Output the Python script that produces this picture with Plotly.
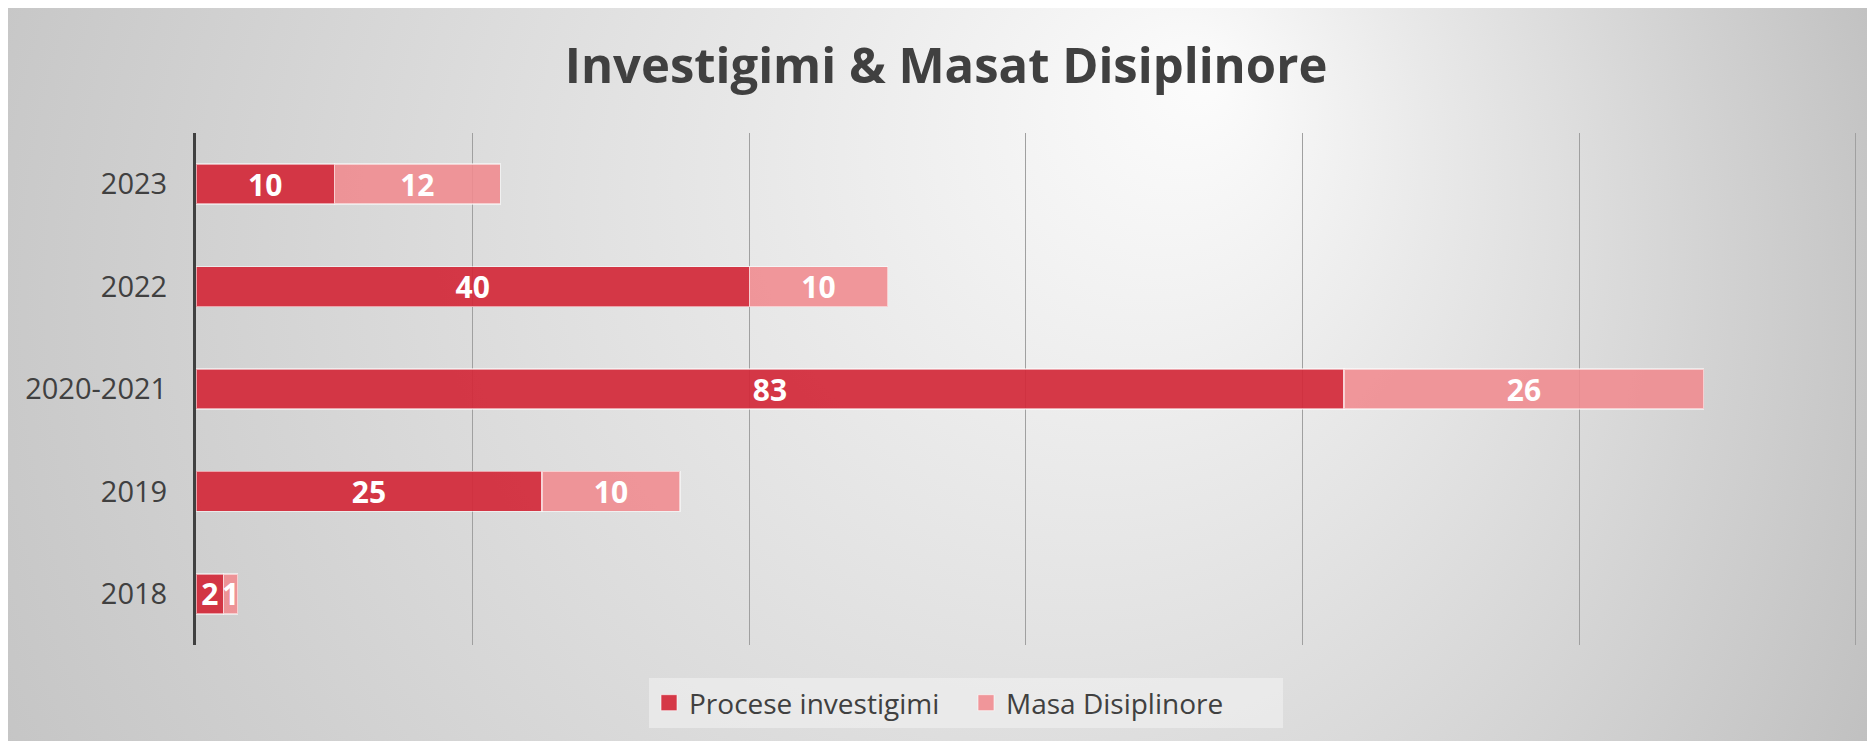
import base64
import plotly.graph_objects as go

# ---- data ----
categories = ["2018", "2019", "2020-2021", "2022", "2023"]
procese_investigimi = [2, 25, 83, 40, 10]
masa_disiplinore = [1, 10, 26, 10, 12]
series_names = ["Procese investigimi", "Masa Disiplinore"]
title_text = "Investigimi & Masat Disiplinore"

W, H = 1875, 741
OFF = 8  # page body margin
FONT = "Open Sans"
TXT = "#404040"
DARK = "rgba(210,40,56,0.92)"
LIGHT = "rgba(240,138,142,0.88)"

# background gradient (style only)
svg = f"""<svg xmlns='http://www.w3.org/2000/svg' width='1875' height='741' viewBox='0 0 1875 741' preserveAspectRatio='none'>
<defs><radialGradient id='g' gradientUnits='userSpaceOnUse' cx='850' cy='350' r='1100' fx='1200' fy='70'>
<stop offset='0' stop-color='#fcfcfc'/><stop offset='0.3' stop-color='#e9e9e9'/><stop offset='1' stop-color='#bfbfbf'/>
</radialGradient></defs><rect x='0' y='0' width='1875' height='741' fill='url(#g)'/></svg>"""
svg_uri = "data:image/svg+xml;base64," + base64.b64encode(svg.encode()).decode()

fig = go.Figure()
for vals, name, col in [(procese_investigimi, series_names[0], DARK),
                        (masa_disiplinore, series_names[1], LIGHT)]:
    fig.add_trace(go.Bar(
        y=categories, x=vals, orientation="h", name=name, showlegend=False,
        marker=dict(color=col, line=dict(color="rgba(255,255,255,0.55)", width=1.5)),
        text=vals, textposition="inside", insidetextanchor="middle", textangle=0,
        constraintext="none", cliponaxis=False,
        textfont=dict(family=FONT, size=30, color="white", weight="bold"),
    ))
# legend entries with square swatches
for name, col in zip(series_names, [DARK, LIGHT]):
    fig.add_trace(go.Scatter(
        x=[None], y=[None], mode="markers", name=name, showlegend=True,
        marker=dict(symbol="square", size=17, color=col,
                    line=dict(color="rgba(255,255,255,0.6)", width=1)),
    ))

def px(v):
    return (v - OFF) / W

def py(v):
    return 1 - (v - OFF) / H

fig.update_layout(
    width=W, height=H,
    barmode="stack", bargap=0.61,
    paper_bgcolor="white", plot_bgcolor="rgba(0,0,0,0)",
    margin=dict(l=0, r=0, t=0, b=0, autoexpand=False),
    font=dict(family=FONT, color=TXT),
    title=dict(text=title_text, x=px(946), y=py(66), xanchor="center", yanchor="middle",
               xref="paper", yref="container",
               font=dict(family=FONT, size=49, color=TXT, weight="bold")),
    xaxis=dict(domain=[px(196), px(1860)], range=[0, 120.3], dtick=20, showgrid=True,
               gridcolor="#a0a0a0", gridwidth=1.2, zeroline=False, showticklabels=False,
               showline=False, fixedrange=True),
    yaxis=dict(domain=[py(645), py(133)], type="category", categoryorder="array",
               categoryarray=categories,
               showline=True, linecolor="#404040", linewidth=3, showgrid=False,
               ticks="", ticklabelstandoff=20,
               tickfont=dict(family=FONT, size=29, color=TXT)),
    legend=dict(orientation="h", x=px(966), xanchor="center", y=py(703), yanchor="middle",
                font=dict(family=FONT, size=28, color=TXT), bgcolor="rgba(240,240,240,0.65)",
                traceorder="normal", entrywidth=272, itemwidth=30),
    images=[dict(source=svg_uri, xref="paper", yref="paper", x=0, y=1,
                 sizex=1, sizey=1, xanchor="left", yanchor="top",
                 sizing="stretch", layer="below")],
    showlegend=True,
)

fig.write_html("out.html")
